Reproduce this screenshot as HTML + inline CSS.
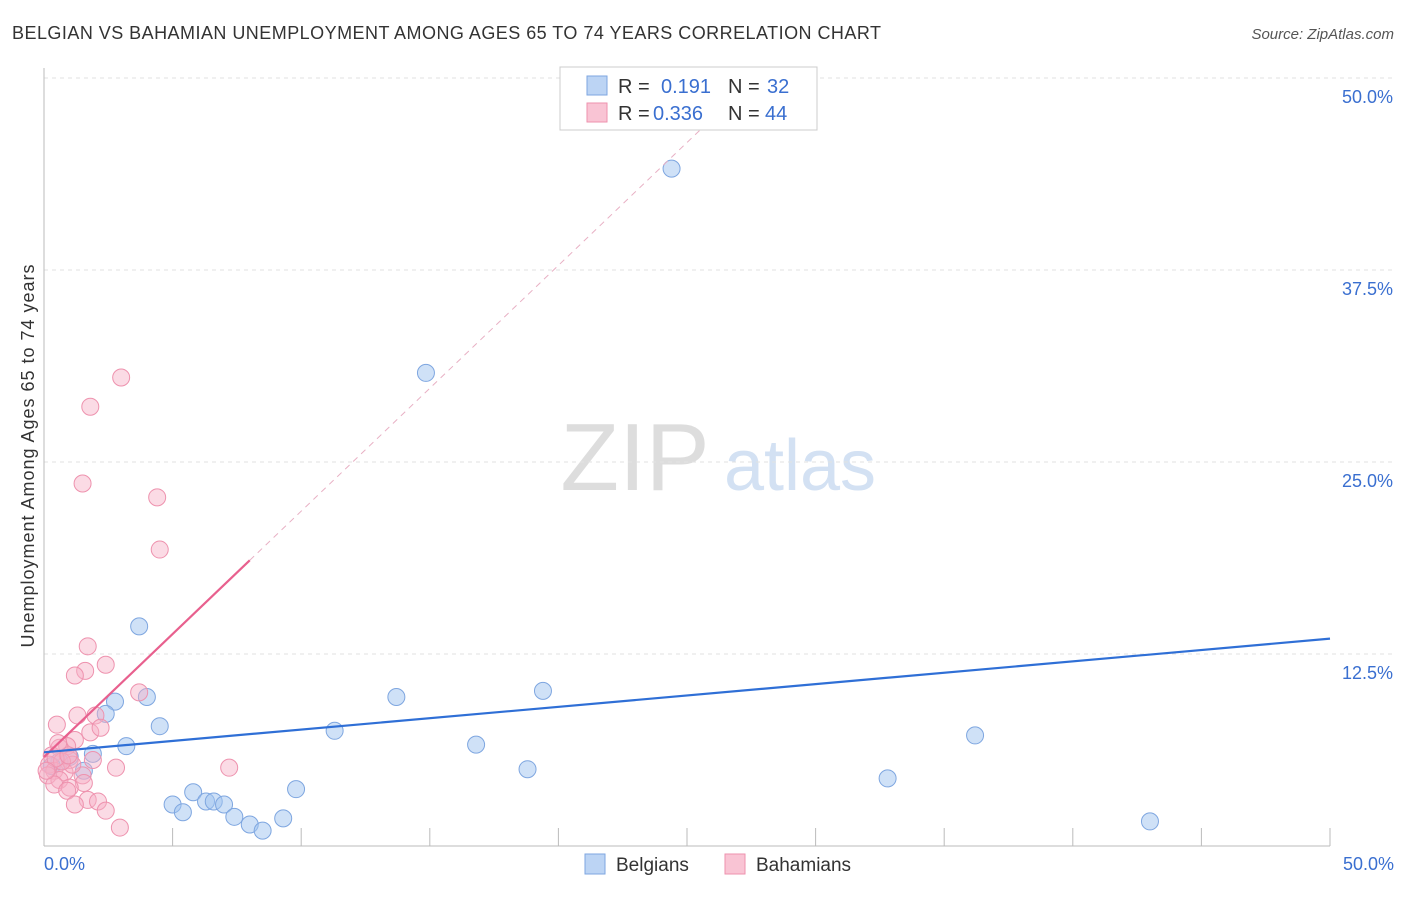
<!DOCTYPE html>
<html><head><meta charset="utf-8"><style>
body{margin:0;background:#fff;font-family:"Liberation Sans",sans-serif;}
svg text{font-family:"Liberation Sans",sans-serif;}
</style></head><body>
<svg width="1406" height="892" id="chart">
<text x="12" y="39" font-size="18" fill="#333" textLength="869">BELGIAN VS BAHAMIAN UNEMPLOYMENT AMONG AGES 65 TO 74 YEARS CORRELATION CHART</text>
<text x="1394" y="39" font-size="15" fill="#555" font-style="italic" text-anchor="end">Source: ZipAtlas.com</text>
<text transform="translate(34,456) rotate(-90)" font-size="18" fill="#333" text-anchor="middle" textLength="383">Unemployment Among Ages 65 to 74 years</text>
<g><text x="635" y="490" font-size="96" fill="#ddd" font-family="Liberation Serif" text-anchor="middle">ZIP</text><text x="800" y="490" font-size="72" fill="#d3e1f3" text-anchor="middle">atlas</text></g>
<g id="grid"></g><g id="axes"></g><g id="marks"></g>
<g>
<rect x="560" y="67" width="257" height="63" fill="#fff" stroke="#ccc"/>
<rect x="587" y="76" width="20" height="19" fill="#bcd4f4" stroke="#7ea6e0"/>
<rect x="587" y="103" width="20" height="19" fill="#f9c4d4" stroke="#ee92ae"/>
<text x="618" y="93" font-size="20" fill="#333">R = <tspan x="661" fill="#3a6fd0">0.191</tspan><tspan x="728">N = </tspan><tspan x="767" fill="#3a6fd0">32</tspan></text>
<text x="618" y="120" font-size="20" fill="#333">R = <tspan x="653" fill="#3a6fd0">0.336</tspan><tspan x="728">N = </tspan><tspan x="765" fill="#3a6fd0">44</tspan></text>
</g>
<g>
<rect x="585" y="854" width="20" height="20" fill="#bcd4f4" stroke="#7ea6e0"/>
<text x="616" y="871" font-size="19" fill="#333">Belgians</text>
<rect x="725" y="854" width="20" height="20" fill="#f9c4d4" stroke="#ee92ae"/>
<text x="756" y="871" font-size="19" fill="#333">Bahamians</text>
</g>
</svg>
<script>
const yTicks=[12.5,25,37.5,50];
const yTickLabels=["12.5%","25.0%","37.5%","50.0%"];
const xTickValues=[0,5,10,15,20,25,30,35,40,45,50];
const blueX=[24.4,14.85,3.7,2.76,4.0,2.4,4.5,3.2,1.9,1.55,11.3,13.7,16.8,19.4,18.8,9.8,5.8,5.0,5.4,6.3,6.6,7.0,7.4,8.0,8.5,9.3,32.8,36.2,43.0,1.0,0.6,0.3];
const blueY=[44.1,30.8,14.3,9.4,9.7,8.6,7.8,6.5,6.0,4.9,7.5,9.7,6.6,10.1,5.0,3.7,3.5,2.7,2.2,2.9,2.9,2.7,1.9,1.4,1.0,1.8,4.4,7.2,1.6,5.8,5.5,5.2];
const pinkX=[3.0,1.8,1.5,4.4,4.5,1.7,1.6,1.2,2.4,3.7,2.0,1.3,0.5,1.8,2.2,1.2,0.9,0.6,2.8,7.2,1.0,0.3,0.2,0.4,0.15,0.8,1.5,0.6,1.55,0.4,1.0,0.9,1.7,2.1,1.2,2.4,2.95,1.1,0.7,0.45,0.95,1.9,0.1,0.55];
const pinkY=[30.5,28.6,23.6,22.7,19.3,13.0,11.4,11.1,11.8,10.0,8.5,8.5,7.9,7.4,7.7,6.9,6.5,6.4,5.1,5.1,5.6,5.9,5.3,4.9,4.6,4.8,4.6,4.3,4.1,4.0,3.8,3.6,3.0,2.9,2.7,2.3,1.2,5.3,5.5,5.7,5.9,5.6,4.9,6.7];
const blueTrend=[0,6.1,50,13.5];
const pinkTrend=[0,5.8,8.0,18.6,26.9];
const X=v=>44+v*25.72, Y=v=>846-v*15.36;
const NS="http://www.w3.org/2000/svg";
function mk(p,t,a){const e=document.createElementNS(NS,t);for(const k in a)e.setAttribute(k,a[k]);document.getElementById(p).appendChild(e);return e;}
yTicks.forEach((v,i)=>{
 const l=mk('grid','line',{x1:44,x2:1394,y1:Y(v),y2:Y(v),stroke:'#e2e2e2','stroke-dasharray':'4,4'});
 
 
 const t=mk('grid','text',{x:1393,y:Y(v)+25,'font-size':18,fill:'#3a6fd0','text-anchor':'end'});
 t.textContent=yTickLabels[i];
 
 
});
const ax=mk('axes','line',{x1:44,x2:44,y1:68,y2:846,stroke:'#bbb'});


const bx=mk('axes','line',{x1:44,x2:1330,y1:846,y2:846,stroke:'#bbb'});


xTickValues.forEach(v=>{
 const t=mk('axes','line',{x1:X(v),x2:X(v),y1:828,y2:846,stroke:'#bbb'});
 
 
});
const xl=mk('axes','text',{x:44,y:870,'font-size':18,fill:'#3a6fd0'});xl.textContent='0.0%';


const xr=mk('axes','text',{x:1394,y:870,'font-size':18,fill:'#3a6fd0','text-anchor':'end'});xr.textContent='50.0%';


blueX.forEach((v,i)=>{
 const c=mk('marks','circle',{cx:X(v),cy:Y(blueY[i]),r:8.5,fill:'rgba(160,196,240,0.5)',stroke:'#7ea6e0','stroke-width':1});
 
 
});
pinkX.forEach((v,i)=>{
 const c=mk('marks','circle',{cx:X(v),cy:Y(pinkY[i]),r:8.5,fill:'rgba(246,176,198,0.45)',stroke:'#ee92ae','stroke-width':1});
 
 
});
const sl=(pinkTrend[3]-pinkTrend[1])/pinkTrend[2];
const pd=mk('marks','line',{x1:X(pinkTrend[2]),y1:Y(pinkTrend[3]),x2:X(pinkTrend[4]),y2:Y(pinkTrend[1]+sl*pinkTrend[4]),stroke:'#e8b0c4','stroke-dasharray':'6,5','stroke-width':1});


const pl=mk('marks','line',{x1:X(pinkTrend[0]),y1:Y(pinkTrend[1]),x2:X(pinkTrend[2]),y2:Y(pinkTrend[3]),stroke:'#e8608e','stroke-width':2.2});


const bl=mk('marks','line',{x1:X(blueTrend[0]),y1:Y(blueTrend[1]),x2:X(blueTrend[2]),y2:Y(blueTrend[3]),stroke:'#2f6fd6','stroke-width':2.2});


</script>
</body></html>
